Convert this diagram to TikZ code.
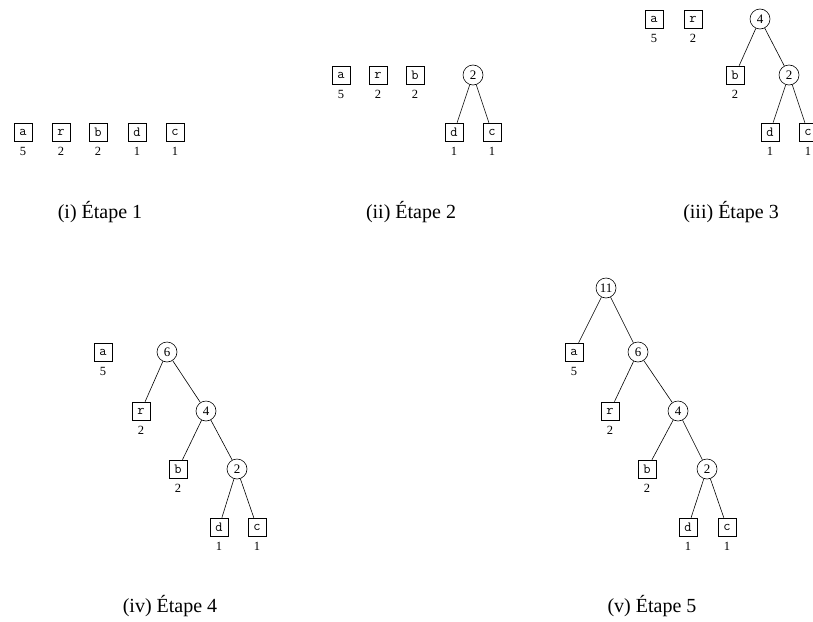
\documentclass[tikz,border=0pt]{standalone}
\usepackage{fontspec}
\setmainfont{Liberation Serif}
\usepackage{tikz}
\usetikzlibrary{positioning}

\begin{document}
\begin{tikzpicture}[
        x=1pt, y=-1pt,
        % Style pour les feuilles (lettres)
        leafbox/.style={
            draw, semithick,
            minimum size=18pt,
            inner sep=0pt,
            font=\ttfamily\fontsize{14}{14}\selectfont
        },
        % Style pour les noeuds internes
        sumnode/.style={
            circle, draw, semithick,
            minimum size=20pt,
            inner sep=0pt,
            font=\fontsize{13}{13}\selectfont
        },
        % Style pour les poids sous les feuilles
        weight/.style={
            font=\fontsize{12.5}{12.5}\selectfont,
            inner sep=0pt
        },
        % Style pour les aretes
        edge/.style={draw, semithick},
        % Style pour les legendes
        caption/.style={font=\fontsize{20}{20}\selectfont}
    ]

        \useasboundingbox (0,0) rectangle (813,621);

        % --- 1. ETAPE 1 ---
        \node[leafbox] (a1) at (23, 132) {a};
        \node[leafbox] (r1) at (61, 132) {r};
        \node[leafbox] (b1) at (98, 132) {b};
        \node[leafbox] (d1) at (137, 132) {d};
        \node[leafbox] (c1) at (175, 132) {c};
        \node[weight, below=6pt of a1] (wa1) {5};
        \node[weight, below=6pt of r1] (wr1) {2};
        \node[weight, below=6pt of b1] (wb1) {2};
        \node[weight, below=6pt of d1] (wd1) {1};
        \node[weight, below=6pt of c1] (wc1) {1};
        \node[caption] (cap1) at (100, 212) {(i) Étape 1};

        % --- 2. ETAPE 2 ---
        \node[leafbox] (a2) at (341, 75) {a};
        \node[leafbox] (r2) at (378, 75) {r};
        \node[leafbox] (b2) at (415, 75) {b};
        \node[sumnode] (s2) at (473, 75) {2};
        \node[leafbox] (d2) at (454, 132) {d};
        \node[leafbox] (c2) at (492, 132) {c};
        \node[weight, below=6pt of a2] (wa2) {5};
        \node[weight, below=6pt of r2] (wr2) {2};
        \node[weight, below=6pt of b2] (wb2) {2};
        \node[weight, below=6pt of d2] (wd2) {1};
        \node[weight, below=6pt of c2] (wc2) {1};
        \draw[edge] (s2) -- (d2);
        \draw[edge] (s2) -- (c2);
        \node[caption] (cap2) at (411, 212) {(ii) Étape 2};

        % --- 3. ETAPE 3 ---
        \node[leafbox] (a3) at (654, 19) {a};
        \node[leafbox] (r3) at (693, 19) {r};
        \node[sumnode] (s3a) at (760, 19) {4};
        \node[leafbox] (b3) at (735, 75) {b};
        \node[sumnode] (s3b) at (789, 75) {2};
        \node[leafbox] (d3) at (770, 132) {d};
        \node[leafbox] (c3) at (808, 132) {c};
        \node[weight, below=6pt of a3] (wa3) {5};
        \node[weight, below=6pt of r3] (wr3) {2};
        \node[weight, below=6pt of b3] (wb3) {2};
        \node[weight, below=6pt of d3] (wd3) {1};
        \node[weight, below=6pt of c3] (wc3) {1};
        \draw[edge] (s3a) -- (b3);
        \draw[edge] (s3a) -- (s3b);
        \draw[edge] (s3b) -- (d3);
        \draw[edge] (s3b) -- (c3);
        \node[caption] (cap3) at (731, 212) {(iii) Étape 3};

        % --- 4. ETAPE 4 ---
        \node[leafbox] (a4) at (103, 352) {a};
        \node[sumnode] (s4a) at (167, 352) {6};
        \node[leafbox] (r4) at (141, 411) {r};
        \node[sumnode] (s4b) at (206, 411) {4};
        \node[leafbox] (b4) at (178, 469) {b};
        \node[sumnode] (s4c) at (237, 469) {2};
        \node[leafbox] (d4) at (219, 527) {d};
        \node[leafbox] (c4) at (257, 527) {c};
        \node[weight, below=6pt of a4] (wa4) {5};
        \node[weight, below=6pt of r4] (wr4) {2};
        \node[weight, below=6pt of b4] (wb4) {2};
        \node[weight, below=6pt of d4] (wd4) {1};
        \node[weight, below=6pt of c4] (wc4) {1};
        \draw[edge] (s4a) -- (r4);
        \draw[edge] (s4a) -- (s4b);
        \draw[edge] (s4b) -- (b4);
        \draw[edge] (s4b) -- (s4c);
        \draw[edge] (s4c) -- (d4);
        \draw[edge] (s4c) -- (c4);
        \node[caption] (cap4) at (170, 606) {(iv) Étape 4};

        % --- 5. ETAPE 5 ---
        \node[sumnode] (s5a) at (606, 288) {11};
        \node[leafbox] (a5) at (574, 352) {a};
        \node[sumnode] (s5b) at (638, 352) {6};
        \node[leafbox] (r5) at (610, 411) {r};
        \node[sumnode] (s5c) at (678, 411) {4};
        \node[leafbox] (b5) at (647, 469) {b};
        \node[sumnode] (s5d) at (707, 469) {2};
        \node[leafbox] (d5) at (688, 527) {d};
        \node[leafbox] (c5) at (727, 527) {c};
        \node[weight, below=6pt of a5] (wa5) {5};
        \node[weight, below=6pt of r5] (wr5) {2};
        \node[weight, below=6pt of b5] (wb5) {2};
        \node[weight, below=6pt of d5] (wd5) {1};
        \node[weight, below=6pt of c5] (wc5) {1};
        \draw[edge] (s5a) -- (a5);
        \draw[edge] (s5a) -- (s5b);
        \draw[edge] (s5b) -- (r5);
        \draw[edge] (s5b) -- (s5c);
        \draw[edge] (s5c) -- (b5);
        \draw[edge] (s5c) -- (s5d);
        \draw[edge] (s5d) -- (d5);
        \draw[edge] (s5d) -- (c5);
        \node[caption] (cap5) at (652, 606) {(v) Étape 5};

    \end{tikzpicture}
\end{document}
